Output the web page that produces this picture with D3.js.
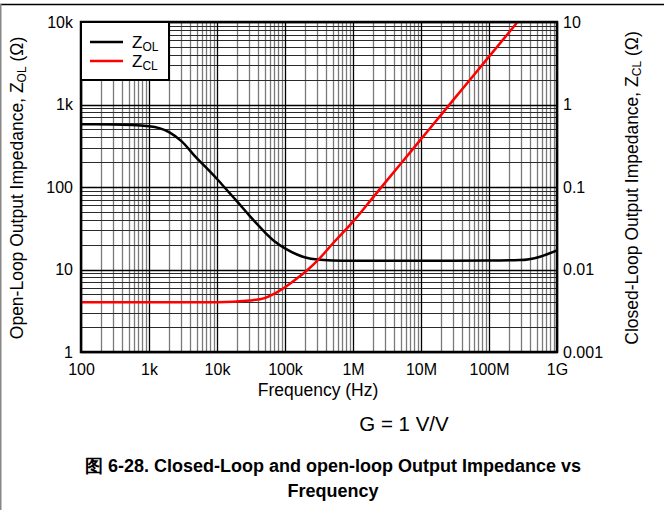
<!DOCTYPE html>
<html><head><meta charset="utf-8">
<script src="https://cdn.jsdelivr.net/npm/d3@7/dist/d3.min.js"></script>
<style>
html,body{margin:0;padding:0;background:#fff;}
svg{display:block;font-family:"Liberation Sans",Arial,sans-serif;}
</style></head>
<body>
<svg id="c" width="664" height="510"></svg>
<script>
// ---- data ----
const xTickValues = [1e2, 1e3, 1e4, 1e5, 1e6, 1e7, 1e8, 1e9];
const xTickLabels = ["100", "1k", "10k", "100k", "1M", "10M", "100M", "1G"];
const yLeftTickValues = [1, 10, 100, 1000, 10000];
const yLeftTickLabels = ["1", "10", "100", "1k", "10k"];
const yRightTickValues = [0.001, 0.01, 0.1, 1, 10];
const yRightTickLabels = ["0.001", "0.01", "0.1", "1", "10"];

const zolFreq = [100, 300, 1000, 2000, 3000, 5000, 7000, 10000, 15000, 20000, 30000, 50000, 70000, 100000, 150000, 200000, 300000, 500000, 1e6, 1e7, 1e8, 2.86e8, 5.63e8, 1e9];
const zolVal  = [575, 572, 545, 460, 360, 225, 170, 125, 86, 66, 45, 28.5, 22, 18, 15.2, 14, 13.2, 12.9, 12.8, 12.8, 12.85, 13.0, 14.3, 17];

const zclFreq = [100, 1000, 10000, 30000, 50000, 70000, 100000, 150000, 200000, 300000, 500000, 1e6, 2e6, 5e6, 1e7, 2e7, 5e7, 1e8, 2.63e8];
const zclVal  = [0.004, 0.004, 0.00401, 0.0042, 0.0045, 0.0051, 0.0061, 0.0078, 0.0094, 0.0128, 0.0205, 0.038, 0.076, 0.19, 0.38, 0.76, 1.9, 3.8, 10];

const seriesNames = ["OL", "CL"];
const seriesColors = ["#000000", "#ff0000"];

// ---- layout ----
const L = 81, R = 557, T = 22, B = 352;
const svg = d3.select("#c");

// outer frame
svg.append("line").attr("x1", 0).attr("x2", 664).attr("y1", 4.5).attr("y2", 4.5).attr("stroke", "#000").attr("stroke-width", 1.5);
svg.append("line").attr("x1", 0.75).attr("x2", 0.75).attr("y1", 4).attr("y2", 510).attr("stroke", "#888").attr("stroke-width", 1.5);

const x = d3.scaleLog().domain([1e2, 1e9]).range([L, R]);
const yL = d3.scaleLog().domain([1, 1e4]).range([B, T]);
const yR = d3.scaleLog().domain([0.001, 10]).range([B, T]);

const defs = svg.append("defs");
defs.append("clipPath").attr("id", "clip").append("rect").attr("x", L).attr("y", T).attr("width", R - L).attr("height", B - T);

// grid
const g = svg.append("g");
const xMinor = [];
for (let d = 2; d < 9; d++) for (let m = 2; m <= 9; m++) xMinor.push(m * Math.pow(10, d));
const yMinor = [];
for (let d = 0; d < 4; d++) for (let m = 2; m <= 9; m++) yMinor.push(m * Math.pow(10, d));

g.selectAll(".vx").data(xMinor).enter().append("line")
  .attr("x1", d => Math.round(x(d)) + 0.5).attr("x2", d => Math.round(x(d)) + 0.5)
  .attr("y1", T).attr("y2", B).attr("stroke", "#7a7a7a").attr("stroke-width", 1.3);
g.selectAll(".hy").data(yMinor).enter().append("line")
  .attr("y1", d => Math.round(yL(d)) + 0.5).attr("y2", d => Math.round(yL(d)) + 0.5)
  .attr("x1", L).attr("x2", R).attr("stroke", "#2a2a2a").attr("stroke-width", 1.2);
g.selectAll(".vm").data(xTickValues).enter().append("line")
  .attr("x1", d => Math.round(x(d)) + 0.5).attr("x2", d => Math.round(x(d)) + 0.5)
  .attr("y1", T).attr("y2", B).attr("stroke", "#000").attr("stroke-width", 1.3);
g.selectAll(".hm").data(yLeftTickValues).enter().append("line")
  .attr("y1", d => Math.round(yL(d)) + 0.5).attr("y2", d => Math.round(yL(d)) + 0.5)
  .attr("x1", L).attr("x2", R).attr("stroke", "#000").attr("stroke-width", 1.3);

// curves
const zol = zolFreq.map((f, i) => [f, zolVal[i]]);
const zcl = zclFreq.map((f, i) => [f, zclVal[i]]);
const lineL = d3.line().x(d => x(d[0])).y(d => yL(d[1])).curve(d3.curveMonotoneX);
const lineR = d3.line().x(d => x(d[0])).y(d => yR(d[1])).curve(d3.curveMonotoneX);
const cg = svg.append("g").attr("clip-path", "url(#clip)");
cg.append("path").attr("d", lineL(zol)).attr("fill", "none").attr("stroke", seriesColors[0]).attr("stroke-width", 2.5);
cg.append("path").attr("d", lineR(zcl)).attr("fill", "none").attr("stroke", seriesColors[1]).attr("stroke-width", 2.5);

// plot frame
svg.append("rect").attr("x", L).attr("y", T).attr("width", R - L).attr("height", B - T)
  .attr("fill", "none").attr("stroke", "#000").attr("stroke-width", 2.5);

// axes
const fs = 16;
const axB = d3.axisBottom(x).tickValues(xTickValues).tickFormat((d, i) => xTickLabels[i]).tickSize(0).tickPadding(12);
const axL = d3.axisLeft(yL).tickValues(yLeftTickValues).tickFormat((d, i) => yLeftTickLabels[i]).tickSize(0).tickPadding(8);
const axR = d3.axisRight(yR).tickValues(yRightTickValues).tickFormat((d, i) => yRightTickLabels[i]).tickSize(0).tickPadding(6);
function style(sel) {
  sel.attr("font-size", fs).attr("font-family", "Liberation Sans, Arial, sans-serif");
  sel.select(".domain").remove();
  sel.selectAll("text").attr("font-size", fs).attr("fill", "#000");
}
svg.append("g").attr("transform", `translate(0,${B})`).call(axB).call(style);
svg.append("g").attr("transform", `translate(${L},0)`).call(axL).call(style);
svg.append("g").attr("transform", `translate(${R},0)`).call(axR).call(style);

// axis titles
svg.append("text").attr("x", 318).attr("y", 396).attr("text-anchor", "middle").attr("font-size", 17.5).text("Frequency (Hz)");

function ztitle(parent, pre, sub, post) {
  const t = parent.append("text").attr("text-anchor", "middle").attr("font-size", 17.5);
  t.append("tspan").text(pre);
  t.append("tspan").attr("font-size", 12).attr("dy", 3).text(sub);
  t.append("tspan").attr("dy", -3).text(post);
  return t;
}
const lt = svg.append("g").attr("transform", "translate(23,188) rotate(-90)");
ztitle(lt, "Open-Loop Output Impedance, Z", "OL", " (Ω)");
const rt = svg.append("g").attr("transform", "translate(638,188) rotate(-90)");
ztitle(rt, "Closed-Loop Output Impedance, Z", "CL", " (Ω)");

// legend
const lg = svg.append("g");
lg.append("rect").attr("x", L).attr("y", T).attr("width", 88).attr("height", 58).attr("fill", "#fff").attr("stroke", "#000").attr("stroke-width", 2);
seriesNames.forEach((n, i) => {
  const yy = 42 + i * 19;
  lg.append("line").attr("x1", 90).attr("x2", 123).attr("y1", yy).attr("y2", yy).attr("stroke", seriesColors[i]).attr("stroke-width", 2.5);
  const t = lg.append("text").attr("x", 132).attr("y", yy + 6).attr("font-size", 17);
  t.append("tspan").text("Z");
  t.append("tspan").attr("font-size", 12).attr("dy", 3).text(n);
});

// annotations
svg.append("text").attr("x", 404).attr("y", 431).attr("text-anchor", "middle").attr("font-size", 20.5).text("G = 1 V/V");
svg.append("text").attr("x", 333).attr("y", 472).attr("text-anchor", "middle").attr("font-size", 18).attr("font-weight", "bold")
  .text("图 6-28. Closed-Loop and open-loop Output Impedance vs");
svg.append("text").attr("x", 333).attr("y", 497).attr("text-anchor", "middle").attr("font-size", 18).attr("font-weight", "bold")
  .text("Frequency");
</script>
</body></html>
